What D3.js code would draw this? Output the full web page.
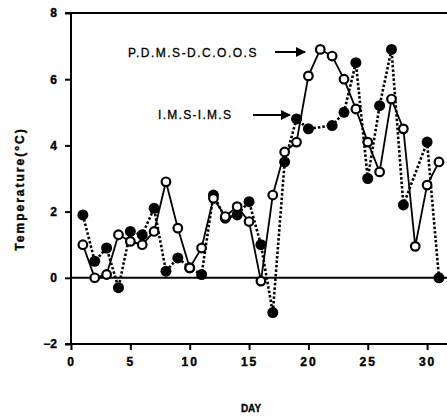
<!DOCTYPE html>
<html>
<head>
<meta charset="utf-8">
<script src="https://cdn.jsdelivr.net/npm/d3@7"></script>
<style>
  body { margin: 0; background: #fff; }
  text { font-family: "Liberation Sans", Arial, sans-serif; fill: #000; }
</style>
</head>
<body>
<script>
// days 1..31
const days = d3.range(1, 32);
// P.D.M.S-D.C.O.O.S (open circles, solid line)
const pdms = [1.0, 0.0, 0.1, 1.3, 1.1, 1.0, 1.4, 2.9, 1.5, 0.3, 0.9, 2.4, 1.85, 2.15, 1.7, -0.1,
  2.5, 3.8, 4.1, 6.1, 6.9, 6.7, 6.0, 5.1, 4.1, 3.2, 5.4, 4.5, 0.95, 2.8, 3.5];
// I.M.S-I.M.S (filled circles, dotted line); null = no reading
const ims = [1.9, 0.5, 0.9, -0.3, 1.4, 1.3, 2.1, 0.2, 0.6, 0.3, 0.1, 2.5, 1.8, 1.9, 2.3, 1.0,
  -1.05, 3.5, 4.8, 4.5, null, 4.6, 5.0, 6.5, 3.0, 5.2, 6.9, 2.2, null, 4.1, 0.0];
const xTicks = [0, 5, 10, 15, 20, 25, 30];
const yTicks = [-2, 0, 2, 4, 6, 8];

const width = 447, height = 416;
const margin = { top: 13, left: 71 };

const svg = d3.select("body").append("svg")
    .attr("width", width).attr("height", height);

const x = d3.scaleLinear().domain([0, 32]).range([margin.left, margin.left + 32 * 11.87]);
const y = d3.scaleLinear().domain([-2, 8]).range([344, margin.top]);

// frame lines
svg.append("line").attr("x1", 65).attr("x2", width).attr("y1", y(8)).attr("y2", y(8))
    .attr("stroke", "#000").attr("stroke-width", 2);
svg.append("line").attr("x1", x(0)).attr("x2", width).attr("y1", y(0)).attr("y2", y(0))
    .attr("stroke", "#000").attr("stroke-width", 2);

const yAxis = svg.append("g")
    .attr("transform", "translate(" + x(0) + ",0)")
    .call(d3.axisLeft(y).tickValues(yTicks).tickSize(6).tickPadding(8).tickFormat(d3.format("d")));
const xAxis = svg.append("g")
    .attr("transform", "translate(0," + y(-2) + ")")
    .call(d3.axisBottom(x).tickValues(xTicks).tickSize(6).tickPadding(7));

[yAxis, xAxis].forEach(function(a) {
  a.select(".domain").remove();
  a.selectAll("line").attr("stroke", "#000").attr("stroke-width", 2);
  a.selectAll("text").attr("font-size", 12).attr("font-weight", "bold")
    .attr("stroke", "#000").attr("stroke-width", 0.4)
    .attr("font-family", "'Liberation Sans', Arial, sans-serif");
});
xAxis.selectAll("text").attr("letter-spacing", "2px");

svg.append("line").attr("x1", x(0)).attr("x2", x(0)).attr("y1", y(8)).attr("y2", y(-2))
    .attr("stroke", "#000").attr("stroke-width", 2);
svg.append("line").attr("x1", 65).attr("x2", width).attr("y1", y(-2)).attr("y2", y(-2))
    .attr("stroke", "#000").attr("stroke-width", 2);

// series
const open = days.map(function(d, i) { return { day: d, v: pdms[i] }; });
const filled = days.map(function(d, i) { return { day: d, v: ims[i] }; }).filter(function(d) { return d.v !== null; });

const line = d3.line().x(function(d) { return x(d.day); }).y(function(d) { return y(d.v); });

svg.append("path").datum(filled).attr("d", line)
    .attr("fill", "none").attr("stroke", "#000").attr("stroke-width", 2.6)
    .attr("stroke-dasharray", "2.5,2");
svg.append("path").datum(open).attr("d", line)
    .attr("fill", "none").attr("stroke", "#000").attr("stroke-width", 1.8);

svg.selectAll(".filled").data(filled).enter().append("circle")
    .attr("class", "filled")
    .attr("cx", function(d) { return x(d.day); })
    .attr("cy", function(d) { return y(d.v); })
    .attr("r", 5.5).attr("fill", "#000");

svg.selectAll(".open").data(open).enter().append("circle")
    .attr("class", "open")
    .attr("cx", function(d) { return x(d.day); })
    .attr("cy", function(d) { return y(d.v); })
    .attr("r", 4.3).attr("fill", "#fff").attr("stroke", "#000").attr("stroke-width", 2.2);

// labels with arrows
svg.append("defs").append("marker")
    .attr("id", "arr").attr("viewBox", "0 0 10 10").attr("refX", 9).attr("refY", 5)
    .attr("markerWidth", 5.5).attr("markerHeight", 5).attr("orient", "auto")
  .append("path").attr("d", "M0,0L10,5L0,10z").attr("fill", "#000");

svg.append("text").attr("x", 128).attr("y", 57).attr("font-size", 12)
    .attr("letter-spacing", "1.5px")
    .attr("stroke", "#000").attr("stroke-width", 0.3).text("P.D.M.S-D.C.O.O.S");
svg.append("line").attr("x1", 275).attr("x2", 305).attr("y1", 52).attr("y2", 52)
    .attr("stroke", "#000").attr("stroke-width", 2).attr("marker-end", "url(#arr)");
svg.append("text").attr("x", 158).attr("y", 119).attr("font-size", 12)
    .attr("letter-spacing", "1.3px")
    .attr("stroke", "#000").attr("stroke-width", 0.3).text("I.M.S-I.M.S");
svg.append("line").attr("x1", 253).attr("x2", 290).attr("y1", 115).attr("y2", 115)
    .attr("stroke", "#000").attr("stroke-width", 2).attr("marker-end", "url(#arr)");

// axis titles
svg.append("text").attr("transform", "translate(24,189) rotate(-90)")
    .attr("text-anchor", "middle").attr("font-size", 12).attr("font-weight", "bold")
    .attr("stroke", "#000").attr("stroke-width", 0.4)
    .attr("letter-spacing", "2px").text("Temperature(°C)");
svg.append("text").attr("x", 251).attr("y", 412).attr("text-anchor", "middle")
    .attr("font-size", 10).attr("font-weight", "bold")
    .attr("stroke", "#000").attr("stroke-width", 0.3).text("DAY");
</script>
</body>
</html>
